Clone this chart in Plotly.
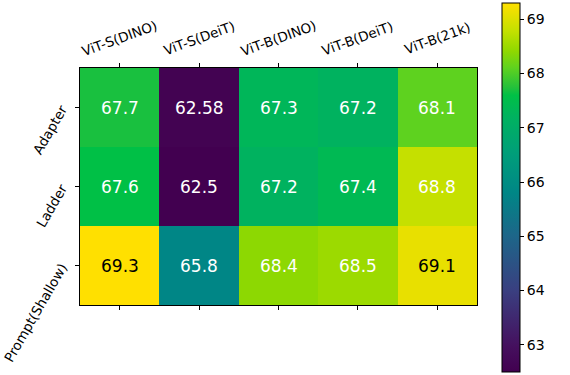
import math
import plotly.graph_objects as go

# --- Data ---
backbones = ["ViT-S(DINO)", "ViT-S(DeiT)", "ViT-B(DINO)", "ViT-B(DeiT)", "ViT-B(21k)"]
methods = ["Adapter", "Ladder", "Prompt(Shallow)"]

adapter = [67.7, 62.58, 67.3, 67.2, 68.1]
ladder = [67.6, 62.5, 67.2, 67.4, 68.8]
prompt_shallow = [69.3, 65.8, 68.4, 68.5, 69.1]

z = [adapter, ladder, prompt_shallow]
zmin, zmax = 62.5, 69.3
cbar_ticks = [63, 64, 65, 66, 67, 68, 69]

# saturated viridis-like map
colorscale = [
    [0.0, "#420050"],
    [0.07, "#45105e"],
    [0.22, "#3a3f80"],
    [0.37, "#1d6689"],
    [0.485, "#008686"],
    [0.59, "#009e7a"],
    [0.69, "#00b260"],
    [0.75, "#00c046"],
    [0.77, "#22c03c"],
    [0.825, "#60d21e"],
    [0.87, "#90d800"],
    [0.925, "#c4e000"],
    [0.97, "#e8e000"],
    [1.0, "#ffe000"],
]

font = "DejaVu Sans"
label_size = 13.5

# rough DejaVu Sans advance widths (per 1000 em) for the y labels
char_w = {"A": 684, "d": 635, "a": 613, "p": 635, "t": 392, "e": 615, "r": 411,
          "L": 557, "P": 603, "o": 612, "m": 974, "(": 390, "S": 635, "h": 634,
          "l": 278, "w": 818, ")": 390}


def text_len(s):
    return sum(char_w.get(c, 600) for c in s) * label_size / 1000


fig = go.Figure()
fig.add_trace(
    go.Heatmap(
        z=z,
        x=backbones,
        y=methods,
        zmin=zmin,
        zmax=zmax,
        colorscale=colorscale,
        hoverinfo="skip",
        colorbar=dict(
            x=1.063,
            xanchor="left",
            xpad=0,
            ypad=0,
            y=0.496,
            yanchor="middle",
            lenmode="pixels",
            len=369,
            thickness=18,
            outlinecolor="black",
            outlinewidth=1,
            ticks="outside",
            ticklen=4,
            tickcolor="black",
            tickvals=cbar_ticks,
            tickfont=dict(family=font, size=14, color="black"),
        ),
    )
)

# cell labels: dark text on the brightest cells
for i, row in enumerate(z):
    for j, v in enumerate(row):
        fig.add_annotation(
            x=backbones[j],
            y=methods[i],
            text=f"{v:g}",
            showarrow=False,
            font=dict(family=font, size=17, color="black" if v >= 69 else "white"),
        )

# rotated tick labels placed like matplotlib's
for name in backbones:
    fig.add_annotation(
        x=name,
        yref="paper",
        y=1,
        yshift=30,
        text=name,
        textangle=-20,
        showarrow=False,
        xanchor="center",
        yanchor="middle",
        font=dict(family=font, size=label_size, color="black"),
    )

# y labels: text end anchored next to the tick, running down-left at 60 deg
ang = math.radians(60)
for name in methods:
    half = text_len(name) / 2
    fig.add_annotation(
        xref="paper",
        x=0,
        xshift=-17 - half * math.cos(ang),
        y=name,
        yshift=1 - half * math.sin(ang),
        text=name,
        textangle=-60,
        showarrow=False,
        xanchor="center",
        yanchor="middle",
        font=dict(family=font, size=label_size, color="black"),
    )

fig.update_layout(
    width=570,
    height=375,
    margin=dict(l=80, r=93, t=68, b=70),
    plot_bgcolor="white",
    paper_bgcolor="white",
    font=dict(family=font, color="black"),
    xaxis=dict(
        side="top",
        range=[-0.5, len(backbones) - 0.5],
        automargin=False,
        showticklabels=False,
        ticks="outside",
        ticklen=4,
        tickcolor="black",
        showline=True,
        linecolor="black",
        linewidth=1,
        mirror="ticks",
        showgrid=False,
    ),
    yaxis=dict(
        range=[len(methods) - 0.5, -0.5],
        automargin=False,
        showticklabels=False,
        ticks="outside",
        ticklen=4,
        tickcolor="black",
        showline=True,
        linecolor="black",
        linewidth=1,
        mirror=True,
        showgrid=False,
    ),
)

fig.write_html(
    "out.html",
    config={"displayModeBar": False},
    post_script="document.body.style.margin='0px';",
)
